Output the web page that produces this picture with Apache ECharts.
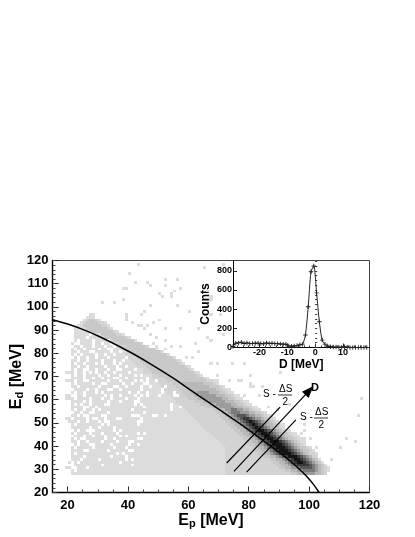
<!DOCTYPE html>
<html><head><meta charset="utf-8">
<style>html,body{margin:0;padding:0;background:#fff}#c{width:415px;height:537px}</style>
<script src="https://cdn.jsdelivr.net/npm/echarts@6/dist/echarts.min.js"></script>
</head><body><div id="c"></div>
<script>
// 2D histogram. Each row: literal cells starting at E_p = 19, then level>endX runs.
const firstRowY = 27.5, rowHeight = 1.25, firstColX = 19;
const histRows = [
"..aaaaaaaaaaaaaaaaaaaaaaaaaaaa a>72 b>94 c>96 d>98 e>102 d>104 c>105 b>106",
"..a.aaaaaaaaaaaaaaaaaaaaaaaaa a>72 b>92 c>94 d>96 e>98 f>102 e>103 d>104 c>105 b>106 a>107",
"aa..aaa.aaaaaaaaaaaaaaaaaaaaa a>72 b>90 c>92 d>94 e>96 f>97 g>101 f>102 e>103 d>104 c>105 b>106 a>107",
"...aaaaaaaaa.aaaaaaaaa.aaaaaa a>72 b>89 c>91 d>93 e>94 f>95 g>96 h>100 g>101 f>102 e>103 d>104 c>105 a>106",
".a.a.aaaaaaaaaaaaa.aaaaaaaaaa a>72 b>88 c>90 d>92 e>93 f>94 g>95 h>96 i>98 h>99 g>100 f>101 e>102 d>103 c>104 a>105",
"..aaa.aaaaa.aaaaaaaa.a.aaaaaa a>72 b>87 c>89 d>91 e>92 f>93 g>94 h>95 i>97 h>98 g>99 f>100 e>101 d>102 c>103 a>104",
"..aaaa.aaaaaaaa.aaaa.aaaaaaaa a>72 b>85 c>87 d>89 e>90 f>91 g>92 h>93 i>96 h>97 g>98 f>99 e>100 d>101 b>103",
"..a.aaaaaaaaaaaaa.a.aaaaaaaaa a>72 b>83 c>85 d>87 e>88 f>89 g>90 h>91 i>94 h>95 g>96 f>97 e>98 d>99 c>100 b>102 a>103",
"..aaaa..aaaaaa.aaaaaa..aaaaaa a>72 b>82 c>84 d>86 e>87 f>88 g>89 h>90 i>93 h>94 g>95 f>96 e>97 d>98 c>100 b>101 a>102",
"..a.aaaaa.aaaaaa.aaa.aaaaaaaa a>72 b>81 c>83 d>85 e>86 f>87 g>88 h>89 i>92 h>93 g>94 f>95 e>96 d>97 c>99 b>100 a>101",
"...a.aaa..aaaaa.aaaaa.aa.aaaa a>71 b>80 c>82 d>84 e>85 f>86 g>87 h>88 i>91 h>92 g>93 f>94 e>95 d>96 c>97 b>98 a>99",
"..aa.aa.aaaa.aaaa.aaa..aaaaaa a>70 b>79 c>81 d>83 e>84 f>85 g>86 h>87 i>90 h>91 g>92 f>93 e>94 d>95 c>96 b>97 a>99",
"..a.a..aaaaaa.aa.aaaaaaa..aaa a>69 b>78 c>80 d>82 e>83 f>84 g>85 h>86 i>88 h>89 g>90 f>91 e>92 d>93 c>95 b>96 a>98",
"...aaa.aa.aaa.aaaa.a.aaaaaaaa a>68 b>77 c>79 d>81 e>82 f>83 g>84 h>85 i>87 h>88 g>89 f>90 e>91 d>92 c>94 b>95 a>97",
"..a.aaaa.aaa.aaaa.aaaaaa.a.aa a>67 b>76 c>78 d>80 e>81 f>82 g>83 h>84 i>86 h>87 g>88 f>89 e>90 d>91 c>93 b>94 a>96",
"...a.aa...aaaaaa.a.aaaaaaaaaa a>66 b>75 c>77 d>79 e>80 f>81 g>82 h>83 i>85 h>86 g>87 f>88 e>89 d>90 c>91 b>92 a>94",
"..aaaaaa.aa.aaaa.aaaaaaaaaaaa a>65 b>74 c>76 d>78 e>79 f>80 g>81 h>82 i>83 h>84 g>85 f>86 e>87 d>88 c>90 b>91 a>92",
"..a.aaaaaaaa.a.aaaaaaaaa.aaaa a>64 b>73 c>75 d>77 e>78 f>79 g>80 h>81 i>82 h>83 g>84 f>85 e>86 d>88 c>89 b>90 a>92",
".aaa.aa.aaa.a..aaaaaaaaa..aaa a>63 b>72 c>74 d>76 e>77 f>78 g>79 h>80 i>81 h>82 g>83 f>84 e>85 d>87 c>88 b>89 a>90",
"aa.aaaa.a..aa.aaa..aaaaaa.aaa a>62 b>71 c>73 d>75 e>76 f>77 g>78 h>80 g>81 f>82 e>84 d>85 c>87 b>88 a>89",
"..aa.a..aaaa..aaaaaaaa...aaaa a>61 b>70 c>72 d>74 e>75 f>76 g>79 f>80 e>82 d>84 c>85 b>86 a>88",
"...aa.aa..aaaa.aaaaaaaaaaa.aa a>60 b>69 c>71 d>73 e>74 f>77 e>80 d>82 c>84 b>85 a>86",
"..a.aa.aa.a.aaaaaaaaaa.aaaaaa a>59 b>68 c>70 d>72 e>74 f>76 e>78 d>80 c>81 b>82 a>84",
"..aaaa..aa.aaaaaaaaaaaaaaa.aa a>58 b>66 c>68 d>70 e>75 d>78 c>80 b>81 a>83",
"..a.a.aa.aaaa..aaaaaaaa.a.aaa a>57 b>64 c>67 d>69 e>74 d>76 c>78 b>79 a>81",
"..aaaa.a.aaaaa.aaa.aaaa..aaaa a>56 b>62 c>65 d>67 e>72 d>75 c>77 b>78 a>80",
"aaa.aaaa.aaa.aa.aaaa.aaa.aaaa a>55 b>60 c>63 d>65 e>71 d>73 c>75 b>76 a>78",
"aa..aa.aaaaaa.a.aa.aaaa.a.a.a a>54 b>59 c>62 d>64 e>69 d>72 c>74 b>75 a>77",
"..a.aa.aaa.a.aaaaaaaa.aa.aa.a a>53 b>58 c>61 d>63 e>67 d>70 c>72 b>73 a>75",
"...aaaa.aa.aaa..aa.aaaaaa.aaa a>52 b>57 c>60 d>69 c>71 b>72 a>74",
"..aa.aaaaaa.aaaa..aa.aaaaaaaa a>51 b>56 c>59 d>67 c>70 b>71 a>72",
"..a.aaaaa.aa..aaaaa.aa.aaa.aa a>50 b>55 c>58 d>65 c>68 b>69 a>70",
"aaa.aa..aaaaaa.aaa.aaaa.aaaaa a>49 b>53 c>66 b>68 a>69",
"..aaaa.aa.aa.aaa..aa.aaaaaa.a a>48 b>52 c>65 b>66 a>67",
"..a.aa.aaaa.aa.aaa.aaaa.a.aaa b>50 c>63 b>64 a>65",
"aaa.aa.a.a.aa.aa.aaaa.aaaa b>48 c>62 b>63 a>64",
"..a.aa..aa.aaa.aa..aaaa.aa b>47 c>60 b>61 a>62",
"..aa.aa.aaaaa.aaa.aa.aaa b>46 c>59 b>60 a>61",
"..a.aa.aaa.a.aaa.a.aaaa b>45 c>57 b>58 a>59",
"..aa.aa.aaaa.aaa.aa.aa b>44 c>56 b>57 a>58",
"...a.aa.aa.aaa.aaaaa. b>43 c>55 a>56",
"..a.a.aaaa.aa.aa.aaa b>42 c>53 a>54",
"..aa.aaa..aaaaa.aa.a b>41 c>51 a>52",
"..a.aa.aaaa.aa..aaa b>40 c>49 a>50 .>52 a>53",
"...aa.aaa.aaa.aa.a b>39 c>46 b>47 .>49 a>50",
"..a..aaaa.aa.aa.a b>37 c>44 b>45 .>48 a>49",
"...a.aaaa.aaaa. a>33 b>35 c>42 a>43",
"...aaaa.aaaaa b>30 c>39 b>40 a>41",
"...aaaaa.aaa b>27 c>36 b>38 a>39",
"...aaaaa b>26 c>35 b>36 a>37",
"...aaaa a>24 b>25 c>33 b>34 a>35",
"....aa b>25 c>31 b>33 a>34",
".....a b>26 c>30 b>32 a>33",
"......a b>27 c>29 b>30 a>31",
".......aa b>28 a>29",
"........aa"
];
const strayCells = [
[43,118],[40,114.8],[46,110],[42,110],[47,109.5],[52,112],[56,111.7],[52,109.5],[55,106.6],[57.6,108],[54.3,106],[38,107.6],[39,107.6],
[38.4,102.8],[31.2,102],[35.6,102],[50.5,105],[51.5,103.8],[54.3,103.8],[56,100.9],[60.3,98],[45,98],[44.4,96.6],[39,97],[39,96],[39,94.4],
[47,100],[48.8,93.7],[46,92.3],[41,93.7],[43,92.3],[44.4,92.3],[47,88],[49.4,87.2],[45,90],[52.7,85.8],[54.9,83.6],[57.6,83],[61,78.6],
[59.3,78],[63.7,80],[50.5,94.4],[52.7,90],[57,90],[63.7,90.8],[66,86.5],[62.5,84.4],
[67.2,103],[67.7,104.5],[66,106.6],[67.2,97.3],[70.5,97.3],[67.2,85.8],[71.6,88],[67.7,75.7],[69.4,75.7],[74.4,75.7],[78.2,75.7],[80.4,70],[69.4,70],[65,117.4],[71,118],
[73.2,67.9],[77.1,67.9],[76,67.9],[80.4,67.2],[80.4,65],[84.3,65.7],[81.5,65.7],[90.4,72.2],[69.4,68.6],[78.2,61.4],[83.7,61.4],[86,57],[89.3,55.7],[93.7,58.5],
[98,49],[97,45.6],[98.6,46.3],[100.3,43.4],[102,39],[98,43.4],
[117.4,60],[116,52.8],[112.4,42.7],[115.8,42],[110,38.8],[107.5,33.8]
];
const holeCells = [
[44.5,67.8],[46.7,67.8],[49.5,67.8],[44.5,65],[47,65.7],[52.2,65],[51,62.8],[55,61.4],[55.6,62.8],[45.6,57],[54.5,57.8],[54.5,55.6],[57.2,57],[52,53.5],[49.5,52.8],
[46,67],[51,64],[50.5,61.4],[56,61.4],[54.3,56.4],[48.8,52.8]
];
const greyLevels = {a:'#dcdcdc',b:'#d3d3d3',c:'#c8c8c8',d:'#b8b8b8',e:'#9c9c9c',f:'#7a7a7a',g:'#565656',h:'#363636',i:'#141414'};

const curveEp = [15,20,25,31,40,47,55,61,67,74,80.4,86,92,96,99,101.5,103.3];
const curveEd = [94.5,92.6,90.3,86.9,81,75.8,69.3,63.9,58.6,52.4,46.6,41.2,35.4,31,27.2,23.4,20];

const linesD = {
  minus:[[72.7,32.7],[90.4,56.8]],
  axis:[[75.1,29.1],[100.1,64]],
  plus:[[79.3,28.8],[95.6,51.3]]
};

const insetD = [-29.5,-28.5,-27.5,-26.5,-25.5,-24.5,-23.5,-22.5,-21.5,-20.5,-19.5,-18.5,-17.5,-16.5,-15.5,-14.5,-13.5,-12.5,-11.5,-10.5,-9.5,-8.5,-7.5,-6.5,-5.5,-4.5,-3.5,-2.5,-1.5,-0.5,0.5,1.5,2.5,3.5,4.5,5.5,6.5,7.5,8.5,9.5,10.5,11.5,12.5,13.5,14.5,15.5,16.5,17.5,18.5];
const insetCounts = [10,45,48,55,42,48,40,42,44,45,42,38,48,42,44,40,40,36,35,34,16,14,16,20,28,35,130,425,790,850,570,268,77,35,15,8,5,4,3,3,8,3,1,1,0,0,0,0,0];

const xMajor=[20,40,60,80,100,120];
const xMinor=[20,25,30,35,40,45,50,55,60,65,70,75,80,85,90,95,100,105,110,115,120];
const yMinor=[20,22,24,26,28,30,32,34,36,38,40,42,44,46,48,50,52,54,56,58,60,62,64,66,68,70,72,74,76,78,80,82,84,86,88,90,92,94,96,98,100,102,104,106,108,110,112,114,116,118,120];
const insetXMajor=[-20,-10,0,10], insetYMajor=[0,200,400,600,800];
const insetXMinor=[-28,-26,-24,-22,-20,-18,-16,-14,-12,-10,-8,-6,-4,-2,0,2,4,6,8,10,12,14,16,18];
const insetYMinor=[0,50,100,150,200,250,300,350,400,450,500,550,600,650,700,750,800,850,900];

const binY=v=>firstRowY+Math.floor((v-firstRowY)/rowHeight)*rowHeight;
const holeKeys=new Set(holeCells.map(p=>Math.floor(p[0])+'_'+binY(p[1])));
const cells=[];
histRows.forEach((row,r)=>{
  const y=firstRowY+r*rowHeight, tok=row.split(' ');
  let x=firstColX;
  const put=(c)=>{ if(c!=='.' && !holeKeys.has(x+'_'+y)) cells.push([x,y,c]); x++; };
  for(const ch of tok[0]) put(ch);
  tok.slice(1).forEach(t=>{
    const lev=t[0], end=+t.slice(2);
    while(x<end) put(lev);
  });
});
strayCells.forEach(p=>{ cells.push([Math.floor(p[0]),binY(p[1]),'a']); });

const FONT='"Liberation Sans",Arial,sans-serif';
function zip(a,b){return a.map((v,i)=>[v,b[i]]);}
const chart=echarts.init(document.getElementById('c'),null,{renderer:'canvas'});
chart.setOption({
  animation:false,backgroundColor:'#fff',
  grid:[
    {left:52.5,top:260.5,width:317,height:232,show:true,borderColor:'#444',borderWidth:1,backgroundColor:'transparent',outerBoundsMode:'none',containLabel:false},
    {left:233,top:260.5,width:136.5,height:87,show:false,outerBoundsMode:'none',containLabel:false}
  ],
  xAxis:[
    {gridIndex:0,type:'value',min:15,max:120,position:'bottom',
     name:'{b|E}{s|p}{b| [MeV]}',nameLocation:'middle',nameGap:18,
     nameTextStyle:{rich:{b:{fontFamily:FONT,fontWeight:'bold',fontSize:16,color:'#000'},s:{fontFamily:FONT,fontWeight:'bold',fontSize:11,color:'#000',padding:[7,0,0,0]}}},
     axisLine:{show:true,onZero:false,lineStyle:{color:'#000',width:1.4}},splitLine:{show:false},
     axisTick:{show:true,inside:true,length:6,lineStyle:{color:'#222'},customValues:xMajor},
     axisLabel:{show:true,customValues:xMajor,margin:6,fontFamily:FONT,fontWeight:'bold',fontSize:13,color:'#000',hideOverlap:false,showMinLabel:true,showMaxLabel:true}},
    {gridIndex:0,type:'value',min:15,max:120,position:'bottom',
     axisLine:{show:false},splitLine:{show:false},axisLabel:{show:false},
     axisTick:{show:true,inside:true,length:3,lineStyle:{color:'#444'},customValues:xMinor}},
    {gridIndex:1,type:'value',min:-29.5,max:19.5,position:'bottom',
     name:'D [MeV]',nameLocation:'middle',nameGap:11,
     nameTextStyle:{fontFamily:FONT,fontWeight:'bold',fontSize:12,color:'#000'},
     axisLine:{show:true,onZero:false,lineStyle:{color:'#000',width:1}},splitLine:{show:false},
     axisTick:{show:true,inside:true,length:4,lineStyle:{color:'#222'},customValues:insetXMajor},
     axisLabel:{show:true,customValues:insetXMajor,margin:1,fontFamily:FONT,fontWeight:'bold',fontSize:9,color:'#000',hideOverlap:false}},
    {gridIndex:1,type:'value',min:-29.5,max:19.5,position:'bottom',
     axisLine:{show:false},splitLine:{show:false},axisLabel:{show:false},
     axisTick:{show:true,inside:true,length:2,lineStyle:{color:'#333'},customValues:insetXMinor}}
  ],
  yAxis:[
    {gridIndex:0,type:'value',min:20,max:120,interval:10,position:'left',
     name:'{b|E}{s|d}{b| [MeV]}',nameLocation:'middle',nameGap:27,nameRotate:90,nameMoveOverlap:false,
     nameTextStyle:{rich:{b:{fontFamily:FONT,fontWeight:'bold',fontSize:16,color:'#000'},s:{fontFamily:FONT,fontWeight:'bold',fontSize:11,color:'#000',padding:[7,0,0,0]}}},
     axisLine:{show:true,onZero:false,lineStyle:{color:'#000',width:1.4}},splitLine:{show:false},
     axisTick:{show:true,inside:true,length:6,lineStyle:{color:'#222'}},
     axisLabel:{show:true,margin:4,fontFamily:FONT,fontWeight:'bold',fontSize:13,color:'#000',hideOverlap:false,showMinLabel:true,showMaxLabel:true}},
    {gridIndex:0,type:'value',min:20,max:120,position:'left',
     axisLine:{show:false},splitLine:{show:false},axisLabel:{show:false},
     axisTick:{show:true,inside:true,length:3,lineStyle:{color:'#444'},customValues:yMinor}},
    {gridIndex:1,type:'value',min:0,max:908,position:'left',
     name:'Counts',nameLocation:'middle',nameGap:21,nameRotate:90,
     nameTextStyle:{fontFamily:FONT,fontWeight:'bold',fontSize:12,color:'#000'},
     axisLine:{show:true,onZero:false,lineStyle:{color:'#000',width:1}},splitLine:{show:false},
     axisTick:{show:true,inside:true,length:4,lineStyle:{color:'#222'},customValues:insetYMajor},
     axisLabel:{show:true,customValues:insetYMajor,margin:1,fontFamily:FONT,fontWeight:'bold',fontSize:9,color:'#000',hideOverlap:false}},
    {gridIndex:1,type:'value',min:0,max:908,position:'left',
     axisLine:{show:false},splitLine:{show:false},axisLabel:{show:false},
     axisTick:{show:true,inside:true,length:2,lineStyle:{color:'#333'},customValues:insetYMinor}}
  ],
  series:[
    {type:'custom',xAxisIndex:0,yAxisIndex:0,z:2,silent:true,data:cells,progressive:0,
     encode:{x:0,y:1},
     renderItem:function(params,api){
       const x=api.value(0),y=api.value(1);
       const a=api.coord([x,y+rowHeight]),b=api.coord([x+1,y]);
       const x0=Math.round(a[0]),y0=Math.round(a[1]),x1=Math.round(b[0]),y1=Math.round(b[1]);
       return {type:'rect',shape:{x:x0,y:y0,width:x1-x0,height:y1-y0},style:{fill:greyLevels[cells[params.dataIndex][2]]}};
     }},
    {type:'line',xAxisIndex:0,yAxisIndex:0,z:4,data:zip(curveEp,curveEd),smooth:0.4,showSymbol:false,
     lineStyle:{color:'#000',width:1.5},silent:true,
     markLine:{silent:true,animation:false,symbol:'none',label:{show:false},lineStyle:{color:'#000',width:1.2,type:'solid'},
       data:[
         [{coord:linesD.minus[0]},{coord:linesD.minus[1]}],
         [{coord:linesD.plus[0]},{coord:linesD.plus[1]}],
         [{coord:linesD.axis[0],symbol:'none'},{coord:linesD.axis[1],symbol:'triangle',symbolSize:[9,12]}]
       ]}},
    {type:'line',xAxisIndex:2,yAxisIndex:2,z:5,data:zip(insetD,insetCounts),smooth:0.25,
     symbol:'path://M4 0H6V4H10V6H6V10H4V6H0V4H4Z',symbolSize:4.5,
     lineStyle:{color:'#222',width:1},itemStyle:{color:'#222'},silent:true}
  ],
  graphic:[
    {type:'text',left:263,top:389,style:{text:'S -',font:'10px '+FONT,fill:'#000'}},
    {type:'text',left:279,top:384,style:{text:'ΔS',font:'10px '+FONT,fill:'#000'}},
    {type:'line',shape:{x1:278,y1:395,x2:292,y2:395},style:{stroke:'#000',lineWidth:0.8}},
    {type:'text',left:282.5,top:397,style:{text:'2',font:'10px '+FONT,fill:'#000'}},
    {type:'text',left:300,top:412,style:{text:'S -',font:'10px '+FONT,fill:'#000'}},
    {type:'text',left:315,top:407,style:{text:'ΔS',font:'10px '+FONT,fill:'#000'}},
    {type:'line',shape:{x1:314,y1:418,x2:328,y2:418},style:{stroke:'#000',lineWidth:0.8}},
    {type:'text',left:318.5,top:420,style:{text:'2',font:'10px '+FONT,fill:'#000'}},
    {type:'text',left:311,top:382,style:{text:'D',font:'bold 11px '+FONT,fill:'#000'}}
  ]
});
</script></body></html>
